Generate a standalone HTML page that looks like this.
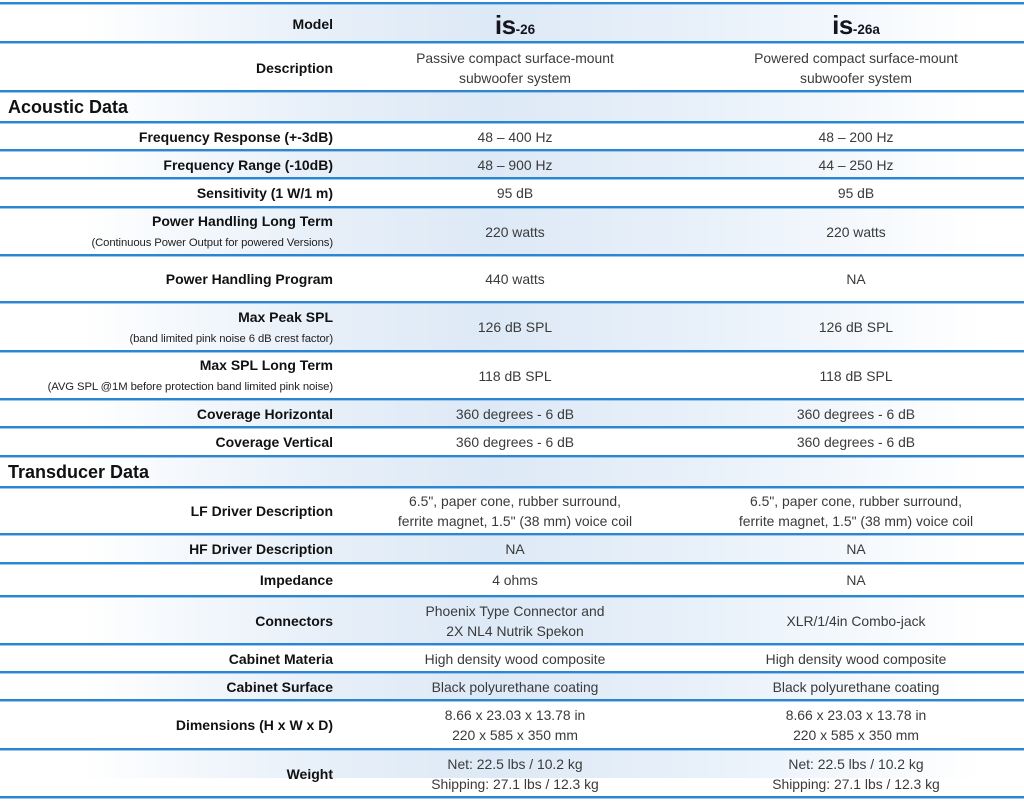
<!DOCTYPE html>
<html>
<head>
<meta charset="utf-8">
<style>
  html,body{margin:0;padding:0;background:#fff;}
  body{width:1024px;height:805px;position:relative;overflow:hidden;font-family:"Liberation Sans",Arial,sans-serif;}
  .bg{position:absolute;left:0;width:1024px;background:linear-gradient(to right,#ffffff 8%,#e8f0f9 30%,#dde9f6 48%,#e9f1fa 70%,#ffffff 96%);}
  .ln{position:absolute;left:0;width:1024px;height:2px;background:#2a86d0;box-shadow:0 1px 0 #9cc6ea;}
  .lab{position:absolute;right:691px;text-align:right;color:#111;font-weight:bold;font-size:14px;line-height:20px;white-space:nowrap;}
  .lab .sub{font-weight:normal;font-size:11.3px;letter-spacing:-0.1px;color:#222;}
  .c1,.c2{position:absolute;text-align:center;color:#3a3a3a;font-size:13.9px;line-height:20px;white-space:nowrap;}
  .c1{left:345px;width:340px;}
  .c2{left:696px;width:320px;}
  .sec{position:absolute;left:8px;font-weight:bold;font-size:18px;color:#111;}
  .logo{font-weight:bold;color:#15151f;white-space:nowrap;}
  .logo .big{font-size:26px;letter-spacing:-0.5px;}
  .logo .sm{font-size:13.5px;}
</style>
</head>
<body>

<div class="bg" style="top:4px;height:37px;"></div>
<div class="bg" style="top:92px;height:29px;"></div>
<div class="bg" style="top:151px;height:26px;"></div>
<div class="bg" style="top:208px;height:46px;"></div>
<div class="bg" style="top:303px;height:47px;"></div>
<div class="bg" style="top:400px;height:26px;"></div>
<div class="bg" style="top:457px;height:29px;"></div>
<div class="bg" style="top:535px;height:27px;"></div>
<div class="bg" style="top:597px;height:46px;"></div>
<div class="bg" style="top:673px;height:26px;"></div>
<div class="bg" style="top:750px;height:28px;"></div>

<div class="ln" style="top:2px"></div>
<div class="ln" style="top:41px"></div>
<div class="ln" style="top:90px"></div>
<div class="ln" style="top:121px"></div>
<div class="ln" style="top:149px"></div>
<div class="ln" style="top:177px"></div>
<div class="ln" style="top:206px"></div>
<div class="ln" style="top:254px"></div>
<div class="ln" style="top:301px"></div>
<div class="ln" style="top:350px"></div>
<div class="ln" style="top:398px"></div>
<div class="ln" style="top:426px"></div>
<div class="ln" style="top:455px"></div>
<div class="ln" style="top:486px"></div>
<div class="ln" style="top:533px"></div>
<div class="ln" style="top:562px"></div>
<div class="ln" style="top:595px"></div>
<div class="ln" style="top:643px"></div>
<div class="ln" style="top:671px"></div>
<div class="ln" style="top:699px"></div>
<div class="ln" style="top:748px"></div>
<div class="ln" style="top:796px"></div>

<div class="lab" style="top:14px;">Model</div>
<div class="c1" style="top:9px;line-height:32px;"><span class="logo"><span class="big">is</span><span class="sm">-26</span></span></div>
<div class="c2" style="top:9px;line-height:32px;"><span class="logo"><span class="big">is</span><span class="sm">-26a</span></span></div>

<div class="lab" style="top:58px;">Description</div>
<div class="c1" style="top:48px;">Passive compact surface-mount<br>subwoofer system</div>
<div class="c2" style="top:48px;">Powered compact surface-mount<br>subwoofer system</div>

<div class="sec" style="top:97px;">Acoustic Data</div>

<div class="lab" style="top:127px;">Frequency Response (+-3dB)</div>
<div class="c1" style="top:127px;">48 – 400 Hz</div>
<div class="c2" style="top:127px;">48 – 200 Hz</div>

<div class="lab" style="top:155px;">Frequency Range (-10dB)</div>
<div class="c1" style="top:155px;">48 – 900 Hz</div>
<div class="c2" style="top:155px;">44 – 250 Hz</div>

<div class="lab" style="top:183px;">Sensitivity (1 W/1 m)</div>
<div class="c1" style="top:183px;">95 dB</div>
<div class="c2" style="top:183px;">95 dB</div>

<div class="lab" style="top:211px;">Power Handling Long Term<br><span class="sub">(Continuous Power Output for powered Versions)</span></div>
<div class="c1" style="top:222px;">220 watts</div>
<div class="c2" style="top:222px;">220 watts</div>

<div class="lab" style="top:269px;">Power Handling Program</div>
<div class="c1" style="top:269px;">440 watts</div>
<div class="c2" style="top:269px;">NA</div>

<div class="lab" style="top:307px;">Max Peak SPL<br><span class="sub">(band limited pink noise 6 dB crest factor)</span></div>
<div class="c1" style="top:317px;">126 dB SPL</div>
<div class="c2" style="top:317px;">126 dB SPL</div>

<div class="lab" style="top:355px;">Max SPL Long Term<br><span class="sub">(AVG SPL @1M before protection band limited pink noise)</span></div>
<div class="c1" style="top:366px;">118 dB SPL</div>
<div class="c2" style="top:366px;">118 dB SPL</div>

<div class="lab" style="top:404px;">Coverage Horizontal</div>
<div class="c1" style="top:404px;">360 degrees - 6 dB</div>
<div class="c2" style="top:404px;">360 degrees - 6 dB</div>

<div class="lab" style="top:432px;">Coverage Vertical</div>
<div class="c1" style="top:432px;">360 degrees - 6 dB</div>
<div class="c2" style="top:432px;">360 degrees - 6 dB</div>

<div class="sec" style="top:462px;">Transducer Data</div>

<div class="lab" style="top:501px;">LF Driver Description</div>
<div class="c1" style="top:491px;">6.5", paper cone, rubber surround,<br>ferrite magnet, 1.5" (38 mm) voice coil</div>
<div class="c2" style="top:491px;">6.5", paper cone, rubber surround,<br>ferrite magnet, 1.5" (38 mm) voice coil</div>

<div class="lab" style="top:539px;">HF Driver Description</div>
<div class="c1" style="top:539px;">NA</div>
<div class="c2" style="top:539px;">NA</div>

<div class="lab" style="top:570px;">Impedance</div>
<div class="c1" style="top:570px;">4 ohms</div>
<div class="c2" style="top:570px;">NA</div>

<div class="lab" style="top:611px;">Connectors</div>
<div class="c1" style="top:601px;">Phoenix Type Connector and<br>2X NL4 Nutrik Spekon</div>
<div class="c2" style="top:611px;">XLR/1/4in Combo-jack</div>

<div class="lab" style="top:649px;">Cabinet Materia</div>
<div class="c1" style="top:649px;">High density wood composite</div>
<div class="c2" style="top:649px;">High density wood composite</div>

<div class="lab" style="top:677px;">Cabinet Surface</div>
<div class="c1" style="top:677px;">Black polyurethane coating</div>
<div class="c2" style="top:677px;">Black polyurethane coating</div>

<div class="lab" style="top:715px;">Dimensions (H x W x D)</div>
<div class="c1" style="top:705px;">8.66 x 23.03 x 13.78 in<br>220 x 585 x 350 mm</div>
<div class="c2" style="top:705px;">8.66 x 23.03 x 13.78 in<br>220 x 585 x 350 mm</div>

<div class="lab" style="top:764px;">Weight</div>
<div class="c1" style="top:754px;">Net: 22.5 lbs / 10.2 kg<br>Shipping: 27.1 lbs / 12.3 kg</div>
<div class="c2" style="top:754px;">Net: 22.5 lbs / 10.2 kg<br>Shipping: 27.1 lbs / 12.3 kg</div>

</body>
</html>
